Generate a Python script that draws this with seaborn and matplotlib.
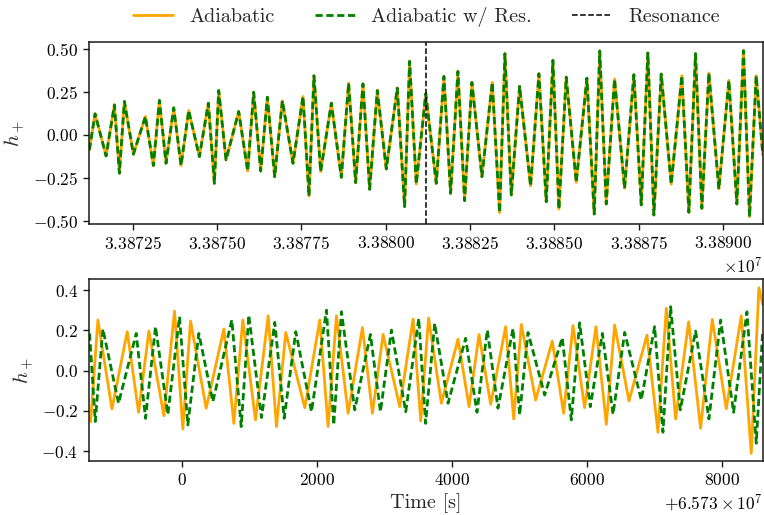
import matplotlib
matplotlib.use("Agg")
import numpy as np
import pandas as pd
import matplotlib.pyplot as plt
import seaborn as sns
from matplotlib.ticker import MultipleLocator

# --- data (extrema of the waveforms) ---
# top panel: time offsets [s] from 3.38725e7, strain h+
TOP_T0 = 33872500
top_dt = [-1285, -1117, -790, -543, -395, -247, 20, 376, 613, 791, 988, 1216,
          1433, 1660, 1976, 2243, 2421, 2550, 2767, 3143, 3409, 3587, 3795,
          3992, 4210, 4437, 4753, 5050, 5227, 5375, 5573, 5890, 6186, 6403,
          6611, 6828, 7026, 7253, 7520, 7846, 8063, 8211, 8409, 8690, 9002,
          9229, 9427, 9644, 9842, 10059, 10356, 10662, 10880, 11038, 11226,
          11473, 11799, 12046, 12263, 12461, 12639, 12856, 13153, 13469,
          13686, 13850, 14042, 14289, 14586, 14862, 15080, 15277, 15455,
          15673, 15969, 16285, 16493, 16690, 16878, 17086, 17382, 17679,
          17916, 18113, 18291, 18489, 18687]
top_h = [-0.088, 0.123, -0.123, 0.175, -0.224, 0.195, -0.113, 0.107, -0.179,
         0.201, -0.166, 0.158, -0.179, 0.142, -0.127, 0.185, -0.283, 0.259,
         -0.146, 0.136, -0.211, 0.249, -0.211, 0.220, -0.244, 0.199, -0.166,
         0.224, -0.357, 0.345, -0.214, 0.185, -0.248, 0.302, -0.279, 0.298,
         -0.318, 0.259, -0.199, 0.273, -0.419, 0.429, -0.287, 0.240, -0.283,
         0.341, -0.341, 0.370, -0.384, 0.306, -0.244, 0.306, -0.454, 0.474,
         -0.351, 0.283, -0.298, 0.357, -0.390, 0.435, -0.433, 0.337, -0.277,
         0.331, -0.462, 0.490, -0.404, 0.326, -0.312, 0.351, -0.409, 0.478,
         -0.468, 0.355, -0.288, 0.345, -0.452, 0.474, -0.429, 0.361, -0.316,
         0.318, -0.404, 0.491, -0.478, 0.345, -0.117]
resonance_dt = 8707

# bottom panel: time offsets [s] from 6.573e7
BOT_T0 = 65730000
adiab_t = [-1357, -1249, -1041, -814, -646, -493, -271, -113, 10, 124, 356,
           618, 766, 899, 1087, 1275, 1398, 1536, 1818, 2040, 2163, 2287,
           2460, 2672, 2820, 2978, 3225, 3423, 3536, 3652, 3842, 4089, 4252,
           4400, 4573, 4795, 4914, 5027, 5239, 5486, 5654, 5793, 5965, 6133,
           6287, 6410, 6623, 6889, 7052, 7176, 7314, 7507, 7684, 7857, 8065,
           8287, 8435, 8548, 8605]
adiab_h = [-0.253, 0.252, -0.190, 0.194, -0.207, 0.197, -0.224, 0.296, -0.290,
           0.247, -0.187, 0.207, -0.262, 0.252, -0.245, 0.273, -0.278, 0.190,
           -0.184, 0.252, -0.278, 0.273, -0.212, 0.214, -0.212, 0.180, -0.179,
           0.257, -0.250, 0.262, -0.162, 0.157, -0.179, 0.180, -0.167, 0.219,
           -0.240, 0.230, -0.146, 0.147, -0.212, 0.224, -0.184, 0.219, -0.267,
           0.227, -0.151, 0.177, -0.306, 0.310, -0.240, 0.243, -0.286, 0.255,
           -0.190, 0.273, -0.411, 0.412, 0.330]
res_t = [-1372, -1288, -1175, -943, -681, -543, -395, -212, -39, 84, 247, 455,
         736, 875, 988, 1176, 1373, 1512, 1684, 1917, 2139, 2247, 2361, 2558,
         2790, 2939, 3102, 3314, 3507, 3608, 3743, 3941, 4202, 4370, 4523,
         4681, 4904, 5002, 5126, 5373, 5634, 5768, 5891, 6049, 6228, 6386,
         6559, 6805, 7003, 7126, 7240, 7383, 7610, 7808, 7981, 8173, 8371,
         8509, 8605]
res_h = [0.185, -0.253, 0.207, -0.162, 0.185, -0.237, 0.219, -0.217, 0.268,
         -0.270, 0.185, -0.154, 0.252, -0.278, 0.276, -0.233, 0.240, -0.237,
         0.194, -0.204, 0.301, -0.270, 0.293, -0.195, 0.180, -0.204, 0.202,
         -0.204, 0.260, -0.262, 0.235, -0.162, 0.161, -0.207, 0.202, -0.187,
         0.210, -0.220, 0.190, -0.121, 0.164, -0.245, 0.238, -0.179, 0.185,
         -0.217, 0.190, -0.146, 0.219, -0.306, 0.318, -0.195, 0.197, -0.240,
         0.252, -0.207, 0.293, -0.361, 0.200]

top = pd.DataFrame({"t": TOP_T0 + np.array(top_dt, float), "h": top_h})
bot_a = pd.DataFrame({"t": BOT_T0 + np.array(adiab_t, float), "h": adiab_h})
bot_r = pd.DataFrame({"t": BOT_T0 + np.array(res_t, float), "h": res_h})

# --- style ---
sns.set_theme(style="ticks")
plt.rcParams["font.family"] = "serif"
plt.rcParams["font.serif"] = ["cmr10"]
plt.rcParams["mathtext.fontset"] = "cm"
plt.rcParams["axes.formatter.use_mathtext"] = True
plt.rcParams["axes.edgecolor"] = "0.1"
plt.rcParams["axes.linewidth"] = 1.1
plt.rcParams["lines.solid_joinstyle"] = "round"
plt.rcParams["lines.dash_joinstyle"] = "round"
for k in ("xtick", "ytick"):
    plt.rcParams[f"{k}.major.size"] = 4.5
    plt.rcParams[f"{k}.major.width"] = 1.0
    plt.rcParams[f"{k}.labelsize"] = 12.5
    plt.rcParams[f"{k}.color"] = "0.1"
    plt.rcParams[f"{k}.labelcolor"] = "black"

fig = plt.figure(figsize=(7.64, 5.15), dpi=100)
ax1 = fig.add_axes([0.117, 0.5645, 0.8815, 0.3546])
ax2 = fig.add_axes([0.117, 0.1049, 0.8815, 0.3534])

ORANGE, GREEN = "orange", "green"


def draw(ax, d_a, d_r):
    sns.lineplot(data=d_a, x="t", y="h", ax=ax, color=ORANGE, lw=2.0,
                 legend=False)
    sns.lineplot(data=d_r, x="t", y="h", ax=ax, color=GREEN, lw=2.0,
                 linestyle="--", legend=False)
    ax.lines[-1].set_dashes([2.6, 1.3])
    for ln in ax.lines:
        ln.set_solid_joinstyle("round")
        ln.set_dash_joinstyle("round")


# top panel: both waveforms coincide
draw(ax1, top, top)
vl = ax1.axvline(TOP_T0 + resonance_dt, color="black", lw=1.1, ls="--")
ax1.set_xlim(top.t.min(), top.t.max())
ax1.set_ylim(-0.522, 0.544)
ax1.xaxis.set_major_locator(MultipleLocator(2500))
ax1.yaxis.set_major_locator(MultipleLocator(0.25))
ax1.set_xlabel("")
ax1.set_ylabel(r"$h_+$", fontsize=15)

# bottom panel
draw(ax2, bot_a, bot_r)
ax2.set_xlim(BOT_T0 - 1375, BOT_T0 + 8607)
ax2.set_ylim(-0.449, 0.456)
ax2.xaxis.set_major_locator(MultipleLocator(2000))
ax2.yaxis.set_major_locator(MultipleLocator(0.2))
ax2.set_xlabel("Time [s]", fontsize=14.5)
ax2.set_ylabel(r"$h_+$", fontsize=15)

for ax in (ax1, ax2):
    ax.xaxis.get_offset_text().set_fontsize(12.5)

handles = [ax1.lines[0], ax1.lines[1], vl]
labels = ["Adiabatic", "Adiabatic w/ Res.", "Resonance"]
fig.legend(handles, labels, loc="center", bbox_to_anchor=(0.558, 0.967),
           ncol=3, frameon=False, fontsize=14.5)

fig.savefig("out.png", dpi=100)
